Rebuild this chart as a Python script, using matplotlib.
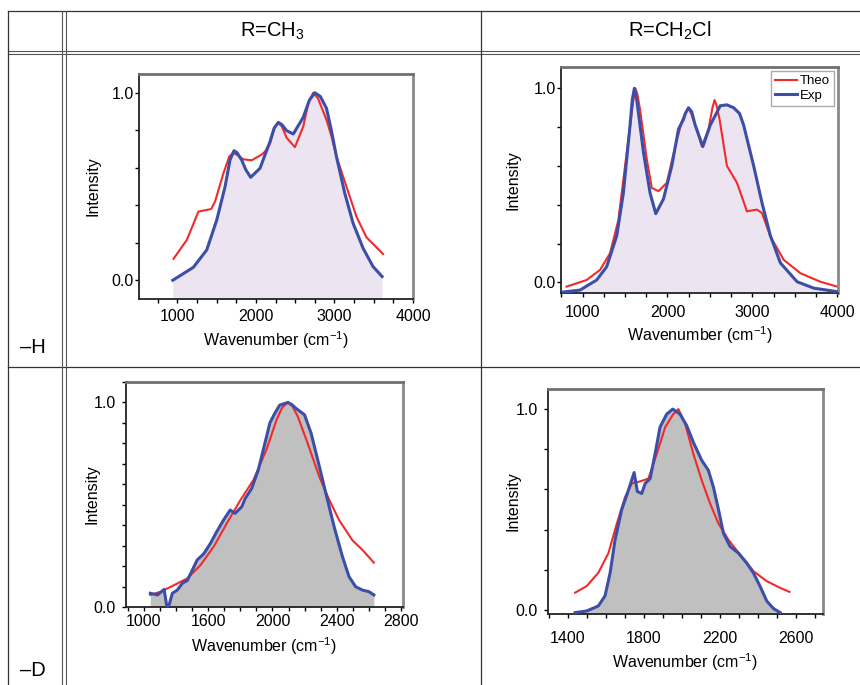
import matplotlib
matplotlib.use("Agg")
import matplotlib.pyplot as plt
from matplotlib.ticker import MultipleLocator

plt.rcParams['font.family'] = ['Liberation Sans', 'DejaVu Sans']
plt.rcParams['mathtext.fontset'] = 'custom'
plt.rcParams['mathtext.rm'] = 'Liberation Sans'
plt.rcParams['mathtext.default'] = 'regular'

# column / row headers
col_labels = ['R=CH$_3$', 'R=CH$_2$Cl']
row_labels = ['\u2013H', '\u2013D']

# R=CH3, -H
h1_theo_x = [949, 1119, 1267, 1373, 1430, 1479, 1585, 1660, 1712, 1770, 1839, 1945, 2072, 2114, 2180, 2240,
             2284, 2330, 2390, 2496, 2602, 2670, 2729, 2790, 2898, 2960, 3025, 3152, 3279, 3406, 3618]
h1_theo_y = [0.114, 0.215, 0.366, 0.375, 0.38, 0.42, 0.57, 0.66, 0.68, 0.665, 0.645, 0.64, 0.67, 0.686,
             0.73, 0.82, 0.84, 0.82, 0.76, 0.71, 0.82, 0.95, 1.0, 0.97, 0.855, 0.77, 0.66, 0.50, 0.34, 0.23,
             0.14]
h1_exp_x = [940, 1203, 1373, 1500, 1606, 1669, 1720, 1760, 1818, 1870, 1932, 2051, 2178, 2230, 2284, 2330,
            2390, 2475, 2602, 2680, 2750, 2820, 2898, 2960, 3025, 3131, 3237, 3364, 3491, 3606]
h1_exp_y = [0.0, 0.069, 0.162, 0.321, 0.499, 0.641, 0.691, 0.68, 0.641, 0.59, 0.549, 0.597, 0.739, 0.81,
            0.842, 0.83, 0.798, 0.78, 0.869, 0.96, 1.0, 0.98, 0.917, 0.8, 0.659, 0.464, 0.304, 0.171, 0.073,
            0.02]

# R=CH2Cl, -H
h2_theo_x = [811, 1047, 1205, 1323, 1421, 1520, 1595, 1622, 1645, 1677, 1756, 1815, 1894, 1992, 2091, 2169,
             2220, 2248, 2280, 2327, 2406, 2484, 2530, 2555, 2580, 2614, 2701, 2819, 2937, 3055, 3114, 3213,
             3370, 3567, 3803, 4000]
h2_theo_y = [-0.022, 0.012, 0.064, 0.15, 0.32, 0.67, 0.93, 1.0, 0.97, 0.89, 0.634, 0.487, 0.47, 0.513, 0.70,
             0.83, 0.88, 0.896, 0.87, 0.81, 0.70, 0.79, 0.90, 0.94, 0.91, 0.84, 0.60, 0.513, 0.366, 0.375,
             0.357, 0.237, 0.116, 0.047, 0.003, -0.022]
h2_exp_x = [772, 969, 1165, 1283, 1402, 1480, 1559, 1585, 1610, 1635, 1657, 1717, 1795, 1862, 1953, 2051,
            2130, 2189, 2210, 2248, 2285, 2327, 2417, 2504, 2622, 2700, 2780, 2850, 2898, 3016, 3114, 3213,
            3331, 3528, 3724, 4000]
h2_exp_y = [-0.05, -0.04, 0.012, 0.08, 0.24, 0.46, 0.81, 0.94, 1.0, 0.95, 0.876, 0.67, 0.46, 0.354, 0.43,
            0.60, 0.79, 0.84, 0.87, 0.90, 0.88, 0.81, 0.70, 0.81, 0.91, 0.915, 0.90, 0.87, 0.81, 0.60, 0.41,
            0.24, 0.10, 0.003, -0.03, -0.048]

# R=CH3, -D
d1_theo_x = [1241, 1307, 1389, 1471, 1553, 1635, 1717, 1799, 1881, 1963, 2025, 2060, 2096, 2125, 2158, 2219,
             2291, 2353, 2414, 2496, 2558, 2630]
d1_theo_y = [0.059, 0.075, 0.107, 0.14, 0.205, 0.295, 0.41, 0.52, 0.62, 0.77, 0.914, 0.975, 1.0, 0.98, 0.93,
             0.80, 0.637, 0.523, 0.425, 0.327, 0.28, 0.217]
d1_exp_x = [1241, 1286, 1327, 1344, 1358, 1378, 1409, 1440, 1471, 1502, 1532, 1573, 1614, 1655, 1696, 1737,
            1768, 1809, 1830, 1871, 1912, 1953, 1984, 2014, 2045, 2096, 2120, 2148, 2199, 2240, 2281, 2332,
            2384, 2435, 2476, 2517, 2558, 2599, 2630]
d1_exp_y = [0.067, 0.059, 0.086, 0.0, 0.01, 0.067, 0.083, 0.116, 0.13, 0.18, 0.23, 0.26, 0.31, 0.37, 0.425,
            0.474, 0.458, 0.49, 0.53, 0.58, 0.67, 0.80, 0.90, 0.946, 0.987, 1.0, 0.99, 0.97, 0.94, 0.85, 0.72,
            0.555, 0.39, 0.246, 0.148, 0.099, 0.083, 0.075, 0.059]

# R=CH2Cl, -D
d2_theo_x = [1438, 1499, 1560, 1613, 1657, 1701, 1736, 1779, 1823, 1867, 1911, 1954, 1981, 2016, 2059, 2103,
             2147, 2191, 2243, 2305, 2375, 2445, 2515, 2564]
d2_theo_y = [0.086, 0.119, 0.185, 0.283, 0.43, 0.563, 0.63, 0.64, 0.654, 0.777, 0.91, 0.975, 1.0, 0.926,
             0.777, 0.646, 0.53, 0.43, 0.35, 0.275, 0.193, 0.143, 0.11, 0.09]
d2_exp_x = [1438, 1499, 1560, 1595, 1622, 1648, 1683, 1718, 1748, 1765, 1788, 1806, 1832, 1858, 1884, 1919,
            1951, 1989, 2024, 2059, 2103, 2138, 2164, 2191, 2217, 2252, 2296, 2339, 2374, 2409, 2445, 2480, 2515]
d2_exp_y = [-0.013, -0.005, 0.02, 0.07, 0.185, 0.35, 0.50, 0.596, 0.684, 0.59, 0.58, 0.63, 0.654, 0.777,
            0.91, 0.975, 1.0, 0.975, 0.918, 0.835, 0.745, 0.695, 0.613, 0.50, 0.382, 0.316, 0.283, 0.234,
            0.185, 0.119, 0.044, 0.007, -0.013]

RED = '#f22a2a'
BLUE = '#3c4fa8'
W, H = 860, 685

fig = plt.figure(figsize=(8.6, 6.85), dpi=100)

# table grid drawn in pixel coordinates
bg = fig.add_axes([0, 0, 1, 1], zorder=-1)
bg.set_xlim(0, W)
bg.set_ylim(H, 0)
bg.axis('off')
lc = '#333333'
bg.plot([8, W], [11, 11], color=lc, lw=0.9)
bg.plot([8, W], [50.5, 50.5], color='#555555', lw=0.8)
bg.plot([8, W], [53.5, 53.5], color='#555555', lw=0.8)
bg.plot([8, W], [366.5, 366.5], color=lc, lw=0.9)
bg.plot([8.3, 8.3], [11, H], color=lc, lw=0.9)
bg.plot([62.3, 62.3], [11, H], color='#555555', lw=0.8)
bg.plot([65.7, 65.7], [11, H], color='#555555', lw=0.8)
bg.plot([481, 481], [11, H], color=lc, lw=0.9)
bg.text(272, 31, col_labels[0], ha='center', va='center', fontsize=14.5)
bg.text(670, 31, col_labels[1], ha='center', va='center', fontsize=14.5)
bg.text(33, 347, row_labels[0], ha='center', va='center', fontsize=14.5)
bg.text(33, 670, row_labels[1], ha='center', va='center', fontsize=14.5)


def pix_axes(left, right, top, bottom):
    return fig.add_axes([left / W, 1 - bottom / H, (right - left) / W, (bottom - top) / H])


panels = [
    dict(box=(139, 413, 74, 299), xlim=(510, 4000), ylim=(-0.1, 1.1), fill='#ece5f1',
         theo=(h1_theo_x, h1_theo_y), exp=(h1_exp_x, h1_exp_y),
         xt=[1000, 2000, 3000, 4000], xl=['1000', '2000', '3000', '4000'], xminor=250, yminor=0.2,
         xpad=4.4, ypad=0.8, ylab=-0.168, xlab=-0.182, legend=False),
    dict(box=(561, 838, 67, 293), xlim=(745, 4010), ylim=(-0.055, 1.11), fill='#ece5f1',
         theo=(h2_theo_x, h2_theo_y), exp=(h2_exp_x, h2_exp_y),
         xt=[1000, 2000, 3000, 4000], xl=['1000', '2000', '3000', '4000'], xminor=250, yminor=0.2,
         xpad=5.3, ypad=0.8, ylab=-0.172, xlab=-0.186, legend=True),
    dict(box=(126, 402.5, 382, 607), xlim=(1090, 2808), ylim=(0.0, 1.1), fill='#c0c0c0',
         theo=(d1_theo_x, d1_theo_y), exp=(d1_exp_x, d1_exp_y),
         xt=[1200, 1600, 2000, 2400, 2800], xl=['1000', '1600', '2000', '2400', '2800'], xminor=100,
         yminor=0.1, xpad=2.2, ypad=4.5, ylab=-0.124, xlab=-0.176, legend=False),
    dict(box=(547.5, 823, 389, 614), xlim=(1293, 2740), ylim=(-0.02, 1.1), fill='#c0c0c0',
         theo=(d2_theo_x, d2_theo_y), exp=(d2_exp_x, d2_exp_y),
         xt=[1400, 1800, 2200, 2600], xl=['1400', '1800', '2200', '2600'], xminor=100, yminor=0.2,
         xpad=9, ypad=3.8, ylab=-0.124, xlab=-0.212, legend=False),
]

for p in panels:
    ax = pix_axes(*p['box'])
    ax.set_xlim(*p['xlim'])
    ax.set_ylim(*p['ylim'])
    ex, ey = p['exp']
    tx, ty = p['theo']
    ax.fill_between(ex, ey, p['ylim'][0], color=p['fill'], lw=0, zorder=1)
    ax.plot(tx, ty, color=RED, lw=1.5, label='Theo', zorder=2)
    ax.plot(ex, ey, color=BLUE, lw=2.2, label='Exp', zorder=3)

    ax.set_xticks(p['xt'], labels=p['xl'])
    ax.set_yticks([0, 1], labels=['0.0', '1.0'])
    ax.xaxis.set_minor_locator(MultipleLocator(p['xminor']))
    ax.yaxis.set_minor_locator(MultipleLocator(p['yminor']))
    ax.tick_params(axis='both', which='both', direction='out', length=3, width=1, labelsize=11.5)
    ax.tick_params(axis='x', pad=p['xpad'])
    ax.tick_params(axis='y', pad=p['ypad'])

    for s in ['left', 'bottom']:
        ax.spines[s].set_color('#222222')
        ax.spines[s].set_linewidth(1.3)
    ax.spines['top'].set_color('#707070')
    ax.spines['top'].set_linewidth(2)
    ax.spines['right'].set_color('#8a8a8a')
    ax.spines['right'].set_linewidth(2)

    ax.set_ylabel('Intensity', fontsize=11.5, va='center')
    ax.yaxis.set_label_coords(p['ylab'], 0.5)
    ax.set_xlabel('Wavenumber (cm$^{\u22121}$)', fontsize=11.5, va='center')
    ax.xaxis.set_label_coords(0.5, p['xlab'])

    if p['legend']:
        ax.legend(loc='upper right', fontsize=9.5, handlelength=1.7, handletextpad=0.2,
                  borderpad=0.3, labelspacing=0.2, borderaxespad=0.3, fancybox=False,
                  edgecolor='#aaaaaa', framealpha=1)

fig.savefig('out.png', dpi=100)
